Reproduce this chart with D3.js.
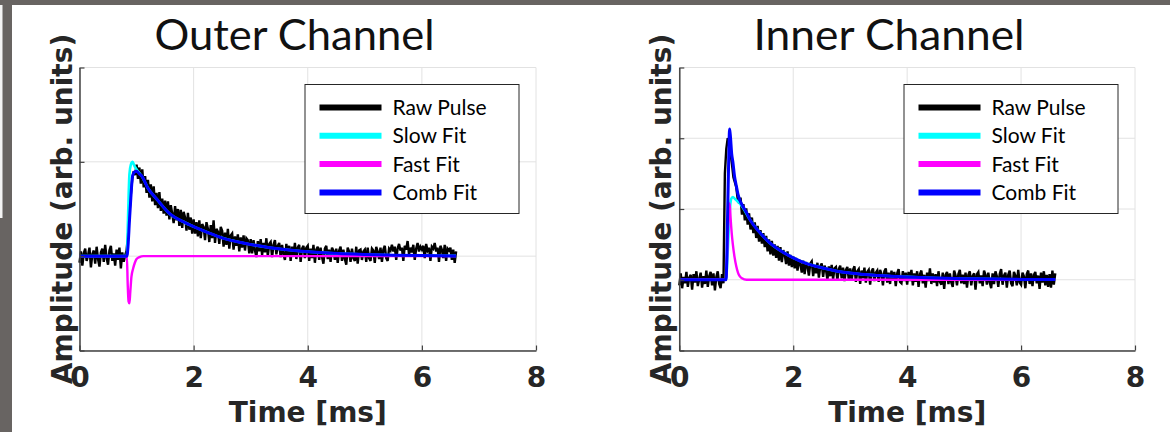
<!DOCTYPE html>
<html><head><meta charset="utf-8">
<script src="https://cdn.jsdelivr.net/npm/d3@7"></script>
<style>html,body{margin:0;padding:0;background:#fff;} svg{display:block;}</style>
</head><body>
<svg id="chart" width="1170" height="432"></svg>
<script>
// ---------- data ----------
const xTicks = [0, 2, 4, 6, 8];
const outerYTicks = [-100, 0, 100, 200];
const innerYTicks = [-100, 0, 100, 200, 300];
const seriesNames = ["Raw Pulse", "Slow Fit", "Fast Fit", "Comb Fit"];
const titles = ["Outer Channel", "Inner Channel"];
const xLabel = "Time [ms]";
const yLabel = "Amplitude (arb. units)";
const rawDt = 0.025; // ms between raw samples, starting at t = 0

const outerRaw = [
 -7, 5, -10, 3, 8, -5, 1, 9, -12, 2, 6, -8, 10, -3, -11, 4, 8, -6, 12, -2,
 -9, 6, 11, -5, 3, -10, 7, -4, 9, -13, 4, -6, 1, 6, 22, 45, 66, 82, 90, 86,
 97, 82, 94, 77, 92, 73, 85, 67, 81, 62, 76, 58, 74, 54, 67, 51, 68, 48, 61, 45,
 59, 43, 58, 39, 54, 45, 35, 53, 38, 50, 32, 49, 30, 47, 41, 27, 46, 28, 41, 24,
 39, 24, 36, 21, 38, 19, 34, 31, 17, 36, 29, 15, 33, 19, 38, 14, 29, 26, 13, 31,
 27, 10, 25, 12, 29, 8, 22, 24, 7, 21, 11, 23, 5, 20, 9, 22, 6, 19, 17, 3,
 18, 3, 17, 6, -1, 16, 5, 18, 1, 14, 4, 19, 0, 13, 15, -1, 12, 17, 2, 11,
 14, -1, 12, 2, -4, 13, 1, 11, -5, 10, 0, 14, -3, 9, 12, -6, 8, 11, -2, 9,
 11, -5, 8, -2, 12, -7, 7, 10, -4, 9, -1, -8, 8, 11, -3, 7, -6, 9, 6, -4,
 8, -7, 6, 10, -5, 7, -3, -9, 9, 5, -6, 8, -2, -5, 10, -8, 6, 7, -4, 5,
 7, -6, 9, -2, -5, 8, 6, -7, 10, 5, -3, 9, -6, 7, 11, -2, -5, 8, 6, 12,
 5, 10, -4, 8, 13, 6, 9, -5, 11, 7, 16, 2, 9, 4, 12, -4, 8, 14, 5, 10,
 7, 11, -2, 13, 6, 9, -5, 10, 8, 14, 5, 9, -6, 11, 7, -2, 12, -5, 8, 6,
 9, -4, 7, -7, 5
];
const outerSlow = [[0,0],[0.83,0],[0.85,40],[0.875,87],[0.9,97],[0.93,100],[0.96,96],[1.0,92],[1.05,88],[1.09,85],[1.2,72],[1.36,60],[1.59,44.5],[1.8,37],[2.01,31],[2.25,25],[2.47,20],[2.87,14],[3.34,9],[3.8,5.7],[4.3,3.5],[5.0,1.7],[5.5,1],[6.0,0.6],[6.6,0.3]];
const outerFast = [[0,0],[0.83,0],[0.845,-30],[0.86,-48],[0.875,-50],[0.89,-38],[0.91,-22],[0.94,-13],[0.97,-7],[1.0,-3],[1.05,-1],[1.12,0],[6.6,0]];
const outerComb = [[0,0],[0.83,0],[0.85,10],[0.875,37],[0.9,62],[0.93,85],[0.96,89],[1.0,90],[1.05,87],[1.09,85],[1.2,72],[1.36,60],[1.59,44.5],[1.8,37],[2.01,31],[2.25,25],[2.47,20],[2.87,14],[3.34,9],[3.8,5.7],[4.3,3.5],[5.0,1.7],[5.5,1],[6.0,0.6],[6.6,0.3]];

const innerRaw = [
 -8, 9, -12, 4, -5, 11, -10, 3, 7, -14, 8, -4, 12, -9, 1, 10, -11, 5, -6, 13,
 -10, 5, 11, -8, 9, -15, 4, 12, -6, -12, 8, -5, 150, 185, 200, 196, 178, 163, 145, 138,
 131, 114, 108, 116, 92, 107, 84, 101, 78, 94, 71, 88, 66, 81, 59, 76, 54, 70, 51, 66,
 46, 62, 40, 57, 36, 55, 34, 50, 31, 48, 27, 46, 25, 42, 36, 22, 40, 20, 35, 18,
 33, 16, 31, 13, 29, 22, 10, 27, 8, 25, 19, 6, 23, 26, 5, 21, 9, 24, 3, 19,
 23, 4, 20, 14, 0, 19, 5, 21, 1, 16, 18, -1, 15, 20, 2, 17, -2, 14, 18, 1,
 16, -1, 14, 19, -3, 12, 15, -6, 13, 2, 17, -4, 11, 14, -7, 12, 16, -2, 10, 13,
 -3, 14, 8, -8, 12, 16, -4, 10, -6, 13, -1, 11, -9, 9, 15, -3, -5, 12, -2, 10,
 -7, 11, -2, 14, -8, 9, -3, 12, -10, 8, 13, -5, 7, -11, 10, -2, 16, -6, 9, -4,
 8, -9, 12, -3, -7, 10, -13, 7, 11, -6, 9, -4, -10, 13, 6, -8, 8, 14, -5, 7,
 -6, 10, -11, 7, 12, -8, 5, 9, -14, 8, 11, -5, 6, -9, 13, 7, -7, 10, -4, -12,
 9, -6, 12, 5, -10, 8, 15, -7, 6, 10, -11, 7, 13, -5, -9, 11, 6, -8, 14, -4,
 -7, 10, 5, -12, 8, 13, -6, 9, -9, 7, 11, -5, 6, -13, 10, -4, 12, -8, 7, -10,
 8, -11, 13, -7, 9
];
const innerSlow = [[0,0],[0.82,0],[0.85,40],[0.88,90],[0.91,114],[0.94,117],[0.98,114],[1.02,111],[1.06,108],[1.1,104],[1.24,85],[1.4,68],[1.59,52],[1.8,40],[2.0,31],[2.25,22.5],[2.5,17],[2.75,12.5],[3.0,9.5],[3.5,6],[4.0,4],[4.5,2.5],[5.0,1.5],[5.5,1],[6.0,0.5],[6.6,0.2]];
const innerFast = [[0,0],[0.82,0],[0.85,60],[0.87,100],[0.885,108],[0.9,88],[0.92,66],[0.94,50],[0.97,32],[1.0,19],[1.03,10],[1.06,5],[1.1,2],[1.18,0],[6.6,0]];
const innerComb = [[0,0],[0.82,0],[0.85,100],[0.87,180],[0.882,213],[0.895,205],[0.92,178],[0.94,167],[0.97,146],[1.0,133],[1.03,121],[1.06,113],[1.1,106],[1.18,95],[1.24,85],[1.4,68],[1.59,52],[1.8,40],[2.0,31],[2.25,22.5],[2.5,17],[2.75,12.5],[3.0,9.5],[3.5,6],[4.0,4],[4.5,2.5],[5.0,1.5],[5.5,1],[6.0,0.5],[6.6,0.2]];

// ---------- drawing ----------
const colors = ["#000000", "#00ffff", "#ff00ff", "#0000ff"];
const widths = [2.4, 2.6, 2.4, 3.0];
const svg = d3.select("#chart");
const frame = "#686462";

// slide frame pieces
svg.append("rect").attr("x", 0).attr("y", 0).attr("width", 1170).attr("height", 5).attr("fill", frame);
svg.append("rect").attr("x", 0).attr("y", 0).attr("width", 12).attr("height", 432).attr("fill", frame);
svg.append("rect").attr("x", 0).attr("y", 5).attr("width", 2.5).attr("height", 213).attr("fill", "#f4f4f4");

function panel(cfg) {
  const top = 67.5, bottom = 350.5;
  const x = d3.scaleLinear().domain([0, 8]).range([cfg.left, cfg.right]);
  const y = d3.scaleLinear().domain(cfg.yDomain).range([bottom, top]);
  const g = svg.append("g");

  // grid
  g.append("g").selectAll("line").data(xTicks).join("line")
    .attr("x1", d => x(d)).attr("x2", d => x(d)).attr("y1", top).attr("y2", bottom)
    .attr("stroke", "#e2e2e2").attr("stroke-width", 1);
  g.append("g").selectAll("line").data(cfg.yTicks).join("line")
    .attr("x1", cfg.left).attr("x2", cfg.right).attr("y1", d => y(d)).attr("y2", d => y(d))
    .attr("stroke", "#e2e2e2").attr("stroke-width", 1);

  // data
  const rawLine = d3.line().x((d, i) => x(i * rawDt)).y(d => y(d));
  const fitLine = d3.line().x(d => x(d[0])).y(d => y(d[1])).curve(d3.curveMonotoneX);
  g.append("path").attr("d", rawLine(cfg.raw)).attr("fill", "none")
    .attr("stroke", colors[0]).attr("stroke-width", widths[0])
    .attr("stroke-linejoin", "miter").attr("stroke-miterlimit", 3);
  [cfg.slow, cfg.fast, cfg.comb].forEach((s, k) => {
    g.append("path").attr("d", fitLine(s)).attr("fill", "none")
      .attr("stroke", colors[k + 1]).attr("stroke-width", widths[k + 1]).attr("stroke-linejoin", "round");
  });

  // axes
  const ax = g.append("g").attr("transform", `translate(0,${bottom})`)
    .call(d3.axisBottom(x).tickValues(xTicks).tickSizeInner(-5).tickSizeOuter(0).tickPadding(16.5).tickFormat(d3.format("d")));
  const ay = g.append("g").attr("transform", `translate(${cfg.left},0)`)
    .call(d3.axisLeft(y).tickValues(cfg.yTicks).tickSizeInner(-5).tickSizeOuter(0).tickFormat(""));
  [ax, ay].forEach(a => {
    a.select(".domain").attr("stroke", "#404040").attr("stroke-width", 1.5);
    a.selectAll(".tick line").attr("stroke", "#404040").attr("stroke-width", 1.2);
    a.selectAll(".tick text").style("font", "bold 28px 'DejaVu Sans'").attr("fill", "#262626");
  });

  // labels
  g.append("text").attr("x", (cfg.left + cfg.right) / 2).attr("y", 421.5)
    .attr("text-anchor", "middle").style("font", "bold 28px 'DejaVu Sans'").attr("fill", "#262626").text(xLabel);
  g.append("text").attr("transform", `translate(${cfg.left - 8},${(top + bottom) / 2}) rotate(-90)`)
    .attr("text-anchor", "middle").style("font", "bold 28px 'DejaVu Sans'").attr("fill", "#262626").text(yLabel);
  g.append("text").attr("x", cfg.titleX).attr("y", 50).attr("text-anchor", "middle")
    .attr("textLength", cfg.titleW).attr("lengthAdjust", "spacingAndGlyphs")
    .style("font", "42px Lato").attr("fill", "#111").text(cfg.title);

  // legend
  const bw = 214, bh = 129, bx = cfg.right - 17 - bw, by = 84.5;
  const lg = g.append("g");
  lg.append("rect").attr("x", bx).attr("y", by).attr("width", bw).attr("height", bh)
    .attr("fill", "#fff").attr("stroke", "#262626").attr("stroke-width", 1);
  seriesNames.forEach((name, i) => {
    const ry = by + 23 + 28.3 * i;
    lg.append("line").attr("x1", bx + 14.5).attr("x2", bx + 76.5).attr("y1", ry).attr("y2", ry)
      .attr("stroke", colors[i]).attr("stroke-width", 6);
    lg.append("text").attr("x", bx + 87.5).attr("y", ry + 7.5)
      .style("font", "21px Lato").attr("fill", "#000").text(name);
  });
}

panel({left: 79.5, right: 536, yDomain: [-100, 200], yTicks: outerYTicks,
  raw: outerRaw, slow: outerSlow, fast: outerFast, comb: outerComb,
  title: titles[0], titleX: 294.5, titleW: 280});
panel({left: 679.3, right: 1135, yDomain: [-100, 300], yTicks: innerYTicks,
  raw: innerRaw, slow: innerSlow, fast: innerFast, comb: innerComb,
  title: titles[1], titleX: 889, titleW: 271});
</script>
</body></html>
